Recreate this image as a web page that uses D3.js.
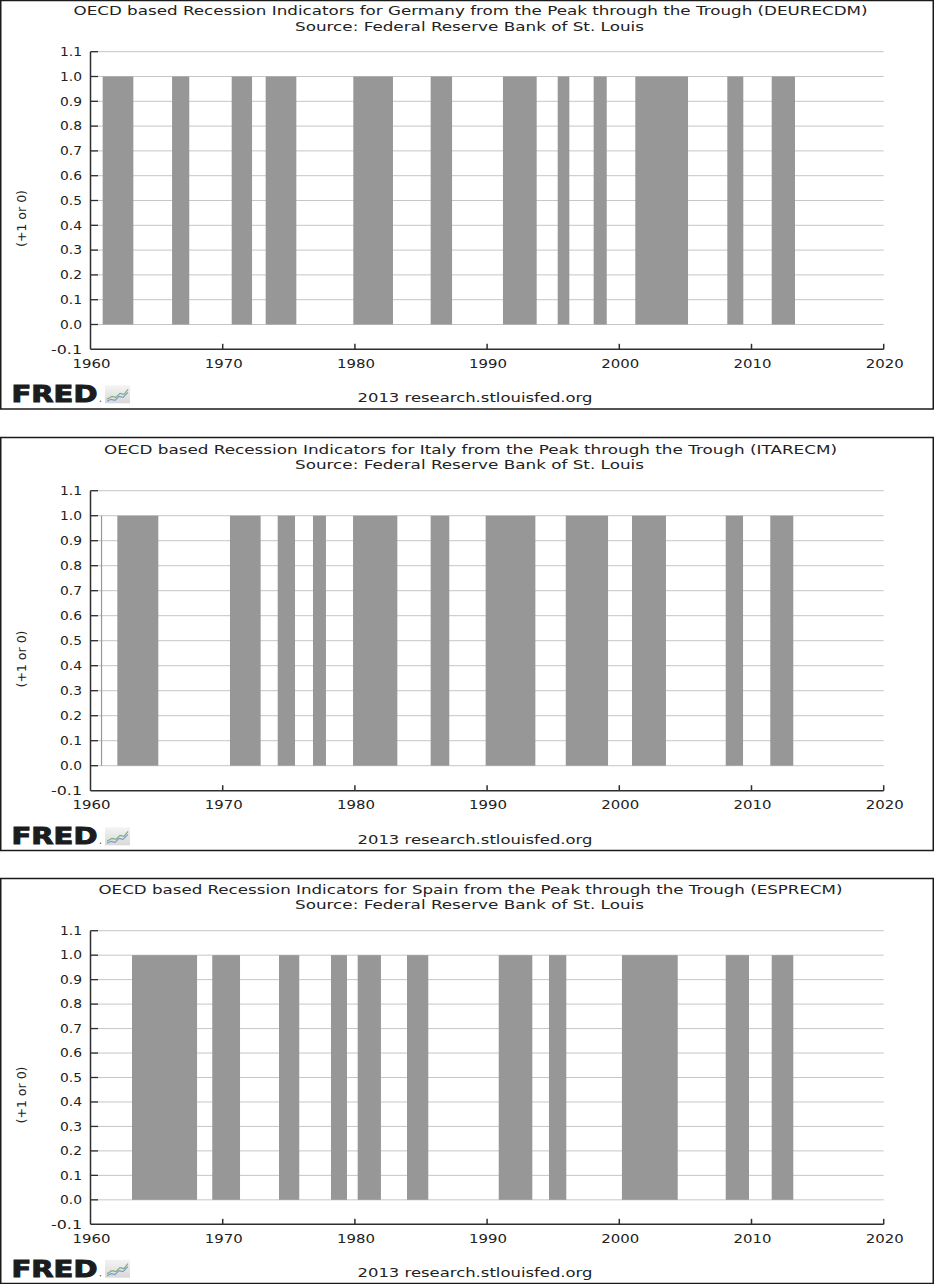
<!DOCTYPE html>
<html>
<head>
<meta charset="utf-8">
<script src="https://cdn.jsdelivr.net/npm/d3@7/dist/d3.min.js"></script>
<style>
  html, body { margin: 0; padding: 0; background: #fff; }
  svg { display: block; }
  text { font-family: "DejaVu Sans", Verdana, sans-serif; fill: #222; }
</style>
</head>
<body>
<svg id="chart" width="935" height="1284"></svg>
<script>
// ---------------- data ----------------
const countries = ["Germany", "Italy", "Spain"];
const seriesCodes = ["DEURECDM", "ITARECM", "ESPRECM"];

// recession periods, decimal years (start, end)
const germanyStart = [1960.92, 1966.17, 1970.68, 1973.25, 1979.88, 1985.73, 1991.20, 1995.34, 1998.06, 2001.21, 2008.17, 2011.53];
const germanyEnd   = [1963.24, 1967.47, 1972.22, 1975.57, 1982.88, 1987.35, 1993.75, 1996.22, 1999.05, 2005.20, 2009.38, 2013.29];

const italyStart = [1960.79, 1962.03, 1970.55, 1974.16, 1976.83, 1979.86, 1985.73, 1989.89, 1995.95, 2000.96, 2008.05, 2011.42];
const italyEnd   = [1960.88, 1965.13, 1972.87, 1975.47, 1977.81, 1983.21, 1987.14, 1993.65, 1999.15, 2003.53, 2009.36, 2013.16];

const spainStart = [1963.14, 1969.21, 1974.26, 1978.19, 1980.21, 1983.94, 1990.88, 1994.68, 2000.20, 2008.05, 2011.53];
const spainEnd   = [1968.06, 1971.31, 1975.79, 1979.40, 1981.97, 1985.55, 1993.42, 1995.99, 2004.42, 2009.81, 2013.16];

const indicatorValue = 1; // value of the series during a recession

const xTicks = [1960, 1970, 1980, 1990, 2000, 2010, 2020];
const yTicks = [-0.1, 0.0, 0.1, 0.2, 0.3, 0.4, 0.5, 0.6, 0.7, 0.8, 0.9, 1.0, 1.1];

const yAxisLabel = "(+1 or 0)";
const subtitle = "Source: Federal Reserve Bank of St. Louis";
const footerText = "2013 research.stlouisfed.org";

const periods = [
  germanyStart.map((s, i) => ({ start: s, end: germanyEnd[i], value: indicatorValue })),
  italyStart.map((s, i) => ({ start: s, end: italyEnd[i], value: indicatorValue })),
  spainStart.map((s, i) => ({ start: s, end: spainEnd[i], value: indicatorValue }))
];

// ---------------- layout ----------------
const layout = [
  { boxTop: 0.5,   boxBot: 409,    t1: 15.3,  t2: 30.7,  plotTop: 51.7,  plotBot: 349.3,  xlab: 367.7,  foot: 402.3,  ylabC: 218.5, titleW: 794 },
  { boxTop: 437.5, boxBot: 850.5,  t1: 454,   t2: 469.3, plotTop: 490.7, plotBot: 790.7,  xlab: 809.3,  foot: 844.3,  ylabC: 659,   titleW: 733 },
  { boxTop: 878.5, boxBot: 1283.5, t1: 894.3, t2: 909.3, plotTop: 930.7, plotBot: 1224.3, xlab: 1242.7, foot: 1276.7, ylabC: 1095,  titleW: 744 }
];
const plotLeft = 90.5, plotRight = 883.7;

const svg = d3.select("#chart");

// gradient for logo icon
const defs = svg.append("defs");
const grad = defs.append("linearGradient").attr("id", "logoGrad")
  .attr("x1", 0).attr("y1", 0).attr("x2", 0).attr("y2", 1);
grad.append("stop").attr("offset", "0%").attr("stop-color", "#f4f4f4");
grad.append("stop").attr("offset", "100%").attr("stop-color", "#d8d8d8");

function stretchText(sel, width) {
  sel.attr("textLength", width).attr("lengthAdjust", "spacingAndGlyphs");
  return sel;
}

countries.forEach((country, pi) => {
  const L = layout[pi];
  const g = svg.append("g");

  // frame
  g.append("rect")
    .attr("x", 0.75).attr("y", L.boxTop)
    .attr("width", 932.5).attr("height", L.boxBot - L.boxTop)
    .attr("fill", "none").attr("stroke", "#1a1a1a").attr("stroke-width", 1.5);

  // titles
  const title = `OECD based Recession Indicators for ${country} from the Peak through the Trough (${seriesCodes[pi]})`;
  stretchText(g.append("text").attr("x", 470.5).attr("y", L.t1)
    .attr("text-anchor", "middle").attr("font-size", 12).text(title), L.titleW);
  stretchText(g.append("text").attr("x", 469.5).attr("y", L.t2)
    .attr("text-anchor", "middle").attr("font-size", 12).text(subtitle), 349);

  const x = d3.scaleLinear().domain([1960, 2020]).range([plotLeft, plotRight]);
  const y = d3.scaleLinear().domain([-0.1, 1.1]).range([L.plotBot, L.plotTop]);

  // gridlines
  g.append("g").selectAll("line")
    .data(yTicks.filter(v => v > -0.1))
    .join("line")
    .attr("x1", plotLeft).attr("x2", plotRight)
    .attr("y1", d => y(d)).attr("y2", d => y(d))
    .attr("stroke", "#c6c6c6").attr("stroke-width", 1);

  // bars
  g.append("g").selectAll("rect")
    .data(periods[pi])
    .join("rect")
    .attr("x", d => x(d.start))
    .attr("width", d => Math.max(1, x(d.end) - x(d.start)))
    .attr("y", d => y(d.value))
    .attr("height", d => y(0) - y(d.value))
    .attr("fill", "#979797");

  // axes
  const axisColor = "#2e2e2e";
  g.append("line").attr("x1", plotLeft).attr("x2", plotLeft)
    .attr("y1", L.plotTop).attr("y2", L.plotBot)
    .attr("stroke", axisColor).attr("stroke-width", 1.5);
  g.append("line").attr("x1", plotLeft).attr("x2", plotRight)
    .attr("y1", L.plotBot).attr("y2", L.plotBot)
    .attr("stroke", axisColor).attr("stroke-width", 1.5);

  // y ticks (inward)
  g.append("g").selectAll("line")
    .data(yTicks.filter(v => v > -0.1))
    .join("line")
    .attr("x1", plotLeft).attr("x2", plotLeft + 7.5)
    .attr("y1", d => y(d)).attr("y2", d => y(d))
    .attr("stroke", axisColor).attr("stroke-width", 1.3);

  // x ticks (inward)
  g.append("g").selectAll("line")
    .data(xTicks.slice(1))
    .join("line")
    .attr("x1", d => x(d)).attr("x2", d => x(d))
    .attr("y1", L.plotBot).attr("y2", L.plotBot - 5.5)
    .attr("stroke", axisColor).attr("stroke-width", 1.5);

  // y tick labels
  g.append("g").selectAll("text")
    .data(yTicks)
    .join("text")
    .attr("x", 82).attr("y", d => y(d))
    .attr("dy", "0.36em")
    .attr("text-anchor", "end")
    .attr("font-size", 12)
    .text(d => d.toFixed(1))
    .attr("textLength", d => d < 0 ? 31 : 22)
    .attr("lengthAdjust", "spacingAndGlyphs");

  // x tick labels
  g.append("g").selectAll("text")
    .data(xTicks)
    .join("text")
    .attr("x", d => x(d) + 1).attr("y", L.xlab)
    .attr("text-anchor", "middle")
    .attr("font-size", 12.5)
    .text(d => String(d))
    .attr("textLength", 38)
    .attr("lengthAdjust", "spacingAndGlyphs");

  // y axis label
  stretchText(g.append("text")
    .attr("transform", `translate(26,${L.ylabC}) rotate(-90)`)
    .attr("text-anchor", "middle")
    .attr("font-size", 13)
    .text(yAxisLabel), 57);

  // footer
  stretchText(g.append("text").attr("x", 475).attr("y", L.foot)
    .attr("text-anchor", "middle").attr("font-size", 12.5).text(footerText), 235);

  // FRED logo
  stretchText(g.append("text").attr("x", 11.5).attr("y", L.foot)
    .attr("font-size", 22.5).attr("font-weight", "bold")
    .style("fill", "#1c1c1c").style("stroke", "#1c1c1c").style("stroke-width", 1)
    .text("FRED"), 86);
  g.append("circle").attr("cx", 100.5).attr("cy", L.foot - 1).attr("r", 0.8).attr("fill", "#666");
  const ix = 105, iy = L.foot - 17;
  const icon = g.append("g").attr("transform", `translate(${ix},${iy})`);
  icon.append("rect").attr("width", 25).attr("height", 18).attr("fill", "url(#logoGrad)");
  icon.append("path").attr("d", "M2,14 L7,11 L11,12 L15,8 L19,9 L23,4")
    .attr("fill", "none").attr("stroke", "#7fae7f").attr("stroke-width", 1.2);
  icon.append("path").attr("d", "M2,16 L6,14 L10,15 L14,11 L18,12 L23,7")
    .attr("fill", "none").attr("stroke", "#7a9cc6").attr("stroke-width", 1.2);
});
</script>
</body>
</html>
